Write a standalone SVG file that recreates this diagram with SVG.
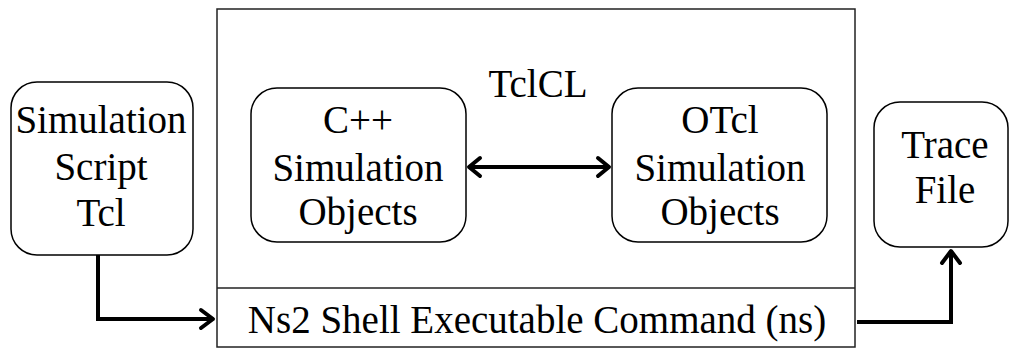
<svg xmlns="http://www.w3.org/2000/svg" width="1010" height="348" viewBox="0 0 1010 348">
<style>
.node{fill:#fff;stroke:#000;stroke-width:1.5}
.t{font-family:"Liberation Serif","DejaVu Serif",serif;font-size:39px;fill:#000;text-anchor:middle}
.c{fill:none;stroke:#000;stroke-width:4}
.h{fill:none;stroke:#000;stroke-width:4;stroke-linecap:round;stroke-linejoin:round}
</style>
<rect width="1010" height="348" fill="#fff"/>
<g id="ns-box">
<rect x="217" y="9" width="638" height="338" fill="#fff" stroke="#222" stroke-width="1.5"/>
<line x1="217" y1="288" x2="855" y2="288" stroke="#222" stroke-width="1.5"/>
<text class="t" x="537" y="333">Ns2 Shell Executable Command (ns)</text>
<text class="t" x="538" y="97">TclCL</text>
</g>
<g id="script">
<rect class="node" x="11" y="82" width="182" height="173" rx="26"/>
<text class="t" x="101" y="133">Simulation</text>
<text class="t" x="101" y="180">Script</text>
<text class="t" x="101" y="226">Tcl</text>
</g>
<g id="cpp">
<rect class="node" x="251" y="88" width="215" height="154" rx="26"/>
<text class="t" x="358" y="133">C++</text>
<text class="t" x="358" y="181">Simulation</text>
<text class="t" x="358" y="225">Objects</text>
</g>
<g id="otcl">
<rect class="node" x="612" y="88" width="215" height="154" rx="26"/>
<text class="t" x="720" y="133">OTcl</text>
<text class="t" x="720" y="181">Simulation</text>
<text class="t" x="720" y="225">Objects</text>
</g>
<g id="trace">
<rect class="node" x="874" y="102" width="134" height="145" rx="26"/>
<text class="t" x="945" y="158">Trace</text>
<text class="t" x="945" y="203">File</text>
</g>
<g id="connectors">
<polyline class="c" points="98,255 98,319 213,319"/>
<polyline class="h" points="201,310 213,319 201,328"/>
<line class="c" x1="470" y1="167" x2="608" y2="167"/>
<polyline class="h" points="480,158 469,167 480,176"/>
<polyline class="h" points="598,158 609,167 598,176"/>
<polyline class="c" points="857,322 951,322 951,252"/>
<polyline class="h" points="942,263 951,251 960,263"/>
</g>
</svg>
